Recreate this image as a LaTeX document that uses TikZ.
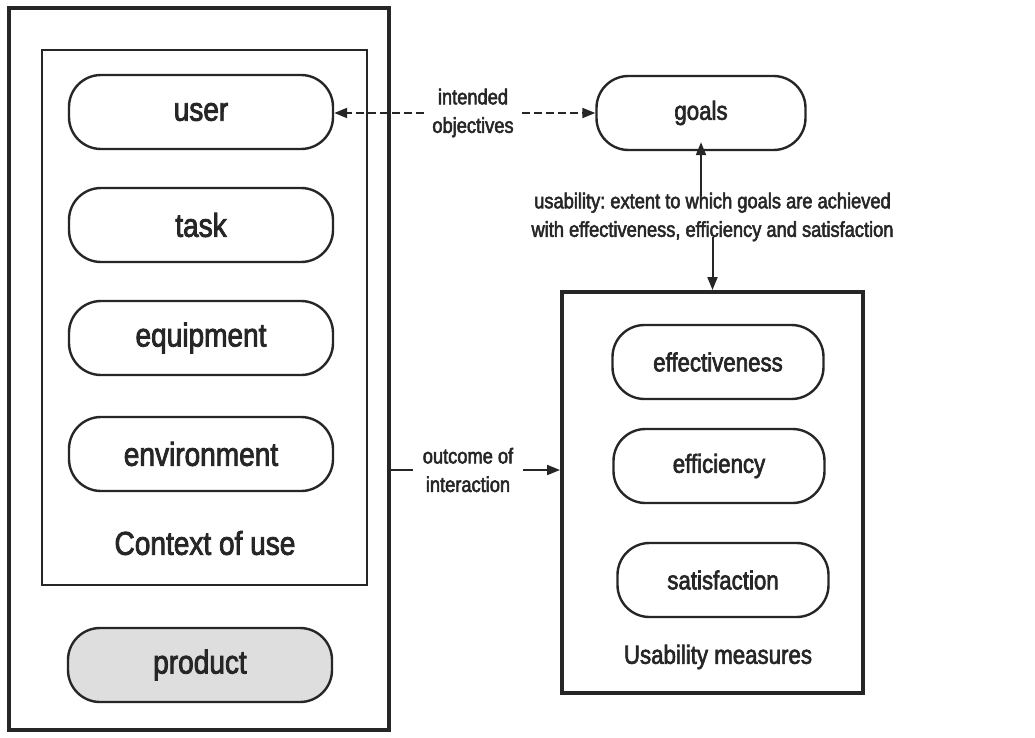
\documentclass[tikz,border=0pt]{standalone}
\usepackage{fontspec}
\setmainfont[FakeStretch=0.85,RawFeature={embolden=2.4}]{Liberation Sans}
\usetikzlibrary{arrows.meta}
\definecolor{ink}{gray}{0.15}
\frenchspacing
\begin{document}
\begin{tikzpicture}[x=1pt,y=-1pt,
  pill/.style={draw=ink,line width=2.4pt,rounded corners=32pt,minimum height=74pt,inner sep=0pt,text=ink},
  lpill/.style={pill,minimum width=264pt,font=\fontsize{33}{36}\selectfont},
  rpill/.style={pill,minimum width=211pt,font=\fontsize{26.2}{30}\selectfont},
  frame/.style={draw=ink,inner sep=0pt},
  elabel/.style={font=\fontsize{21.5}{28.5}\selectfont,align=center,inner xsep=8pt,inner ysep=0pt,text=ink},
  tip/.style={-{Triangle[length=13pt,width=10pt]}},
  conn/.style={draw=ink,line width=2pt}]
\useasboundingbox[fill=white] (0,0) rectangle (1035,738);
% outer and inner frames
\node[frame,line width=4pt,minimum width=380pt,minimum height=722pt] (outer) at (199,369) {};
\node[frame,line width=2.6pt,minimum width=325pt,minimum height=535pt] (ctx) at (204.5,317.5) {};
% left pills
\node[lpill] (user) at (201,112) {user};
\node[lpill] (task) at (201,225) {task};
\node[lpill] (equip) at (201,338) {equipment};
\node[lpill] (env) at (201,454) {environment};
\node[font=\fontsize{33}{36}\selectfont,text=ink] (ctxlabel) at (205,543) {Context of use};
\node[lpill,fill=black!13] (product) at (200,665) {product};
% goals
\node[pill,minimum width=209pt,font=\fontsize{26.2}{30}\selectfont] (goals) at (701,113) {goals};
% usability measures box
\node[frame,line width=4pt,minimum width=301pt,minimum height=401pt] (usab) at (712.5,492.5) {};
\node[rpill] (effect) at (718,362) {effectiveness};
\node[rpill] (effic) at (719,466) {efficiency};
\node[rpill] (satis) at (723,580) {satisfaction};
\node[font=\fontsize{26.2}{30}\selectfont,text=ink] (umlabel) at (718,657) {Usability measures};
% intended objectives
\node[elabel] (io) at (473,113) {intended\\objectives};
\draw[conn,tip,dash pattern=on 8pt off 4pt] (io.west) -- (user.east|-io.west);
\draw[conn,tip,dash pattern=on 8pt off 4pt] (io.east) -- (goals.west|-io.east);
% usability definition
\node[elabel] (ut) at (712.5,217) {usability: extent to which goals are achieved\\with effectiveness, efficiency and satisfaction};
\draw[conn,tip,line width=2pt] ([yshift=-3pt]ut.north-|goals.south) -- ([yshift=9pt]goals.south);
\draw[conn,tip,line width=2pt] ([yshift=4pt]ut.south) -- (usab.north|-usab.north);
% outcome of interaction
\node[elabel,inner xsep=10pt] (oi) at (468,470) {outcome of\\interaction};
\draw[conn] (outer.east|-oi.west) -- (oi.west);
\draw[conn,tip] (oi.east) -- (usab.west|-oi.east);
\end{tikzpicture}
\end{document}
